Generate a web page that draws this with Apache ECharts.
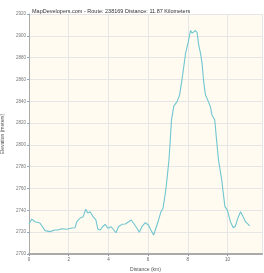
<!DOCTYPE html>
<html><head><meta charset="utf-8">
<script src="https://cdn.jsdelivr.net/npm/echarts@6/dist/echarts.min.js"></script>
<style>html,body{margin:0;padding:0;background:#fff}#c{width:264px;height:273px}</style>
</head><body><div id="c"></div>
<script>
const titleText = "MapDevelopers.com - Route: 238169 Distance: 11.87 Kilometers";
const xName = "Distance (km)";
const yName = "Elevation (meters)";
const distanceKm = [0,0.14,0.30,0.55,0.81,1.06,1.31,1.46,1.65,1.90,2.16,2.32,2.41,2.58,2.73,2.86,2.96,3.08,3.17,3.23,3.37,3.47,3.59,3.70,3.84,3.97,4.14,4.24,4.38,4.51,4.68,4.85,5.02,5.15,5.27,5.44,5.56,5.69,5.86,5.91,6.02,6.14,6.28,6.36,6.53,6.65,6.75,6.87,6.95,7.05,7.12,7.18,7.30,7.46,7.59,7.72,7.89,8.02,8.14,8.22,8.30,8.39,8.47,8.55,8.64,8.72,8.80,8.89,9.00,9.14,9.22,9.36,9.45,9.55,9.71,9.87,9.99,10.15,10.29,10.40,10.52,10.66,10.79,10.91,10.99,11.12];
const elevationM = [2727.5,2732,2729.6,2728.4,2721.4,2720.5,2722,2722,2723.2,2722.7,2723.9,2724.1,2729.6,2733,2734.2,2741,2737.6,2738.8,2739.7,2734.2,2731.2,2722.7,2722,2725,2727.2,2723.6,2725,2723.6,2719.5,2725,2727.2,2727.5,2729.6,2731.2,2728.2,2723.6,2719.9,2725,2728.7,2729.6,2726.6,2722,2717.4,2719,2731.2,2738.8,2741.9,2755.7,2767.9,2786,2805,2822.9,2835.8,2839.7,2845.9,2861.2,2884.1,2893.9,2904.9,2902.5,2902.5,2904.9,2903,2891.7,2884.1,2875,2858.1,2845.9,2841.3,2835.1,2827.5,2822.9,2804.6,2786,2767.9,2743.4,2740.4,2729.6,2724.1,2725.7,2732.7,2738.8,2734.2,2729.6,2728.7,2725.7];
const yMin = 2700, yStep = 20, yMax = 2920;
const xMin = 0, xStep = 2, xMax = 11.74;

const chart = echarts.init(document.getElementById('c'));
chart.setOption({
  animation: false,
  backgroundColor: '#ffffff',
  title: {text: titleText, left: 27, top: 3, textStyle: {fontSize: 5.5, fontWeight: 'normal', color: '#333', fontFamily: 'Liberation Sans'}},
  grid: {left: 29, right: 2, top: 14, bottom: 19, show: true, backgroundColor: '#fffbf1', borderWidth: 0, containLabel: false, outerBoundsMode: 'none'},
  xAxis: {type: 'value', min: xMin, max: xMax, interval: xStep,
    name: xName, nameLocation: 'middle', nameGap: 12,
    nameTextStyle: {fontSize: 5, color: '#555', fontFamily: 'Liberation Sans'},
    axisLine: {show: true, lineStyle: {color: '#aaaaaa', width: 2}},
    axisTick: {show: true, length: 2, lineStyle: {color: '#999'}},
    axisLabel: {fontSize: 4.5, color: '#666', margin: 3, fontFamily: 'Liberation Sans', showMaxLabel: false, formatter: v => String(v)},
    splitLine: {show: true, lineStyle: {color: '#e6e6e6', width: 1}}},
  yAxis: {type: 'value', min: yMin, max: yMax, interval: yStep,
    name: yName, nameLocation: 'middle', nameGap: 15,
    nameTextStyle: {fontSize: 5, color: '#555', fontFamily: 'Liberation Sans'},
    axisLine: {show: true, lineStyle: {color: '#aaaaaa', width: 1}},
    axisTick: {show: true, length: 2, lineStyle: {color: '#8fa8c8'}},
    axisLabel: {fontSize: 4.5, color: '#777', margin: 3, fontFamily: 'Liberation Sans', formatter: v => String(v)},
    splitLine: {show: true, lineStyle: {color: '#e6e6e6', width: 1}}},
  series: [{type: 'line', data: distanceKm.map((d, i) => [d, elevationM[i]]),
    showSymbol: false, lineStyle: {color: '#70c6cf', width: 1.1}}]
});
</script></body></html>
